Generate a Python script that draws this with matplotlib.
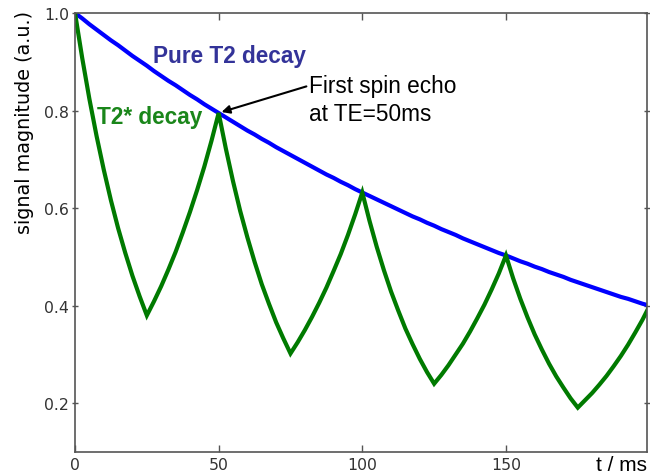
"""Spin echo train: pure T2 decay vs. T2* decay with refocusing echoes."""

import matplotlib
matplotlib.use("Agg")
import matplotlib.pyplot as plt

# time axis (ms), sampled every 2.5 ms
t_ms = [0, 2.5, 5, 7.5, 10, 12.5, 15, 17.5, 20, 22.5, 25, 27.5, 30, 32.5,
        35, 37.5, 40, 42.5, 45, 47.5, 50, 52.5, 55, 57.5, 60, 62.5, 65,
        67.5, 70, 72.5, 75, 77.5, 80, 82.5, 85, 87.5, 90, 92.5, 95, 97.5,
        100, 102.5, 105, 107.5, 110, 112.5, 115, 117.5, 120, 122.5, 125,
        127.5, 130, 132.5, 135, 137.5, 140, 142.5, 145, 147.5, 150, 152.5,
        155, 157.5, 160, 162.5, 165, 167.5, 170, 172.5, 175, 177.5, 180,
        182.5, 185, 187.5, 190, 192.5, 195, 197.5, 200]

# envelope: pure T2 decay
t2_signal = [1.000, 0.989, 0.977, 0.966, 0.955, 0.944, 0.934, 0.923, 0.912,
             0.902, 0.892, 0.881, 0.871, 0.861, 0.852, 0.842, 0.832, 0.823,
             0.813, 0.804, 0.795, 0.786, 0.777, 0.768, 0.759, 0.751, 0.742,
             0.734, 0.725, 0.717, 0.709, 0.701, 0.693, 0.685, 0.677, 0.669,
             0.662, 0.654, 0.647, 0.639, 0.632, 0.625, 0.618, 0.611, 0.604,
             0.597, 0.590, 0.583, 0.577, 0.570, 0.564, 0.557, 0.551, 0.545,
             0.538, 0.532, 0.526, 0.520, 0.514, 0.508, 0.503, 0.497, 0.491,
             0.486, 0.480, 0.475, 0.469, 0.464, 0.459, 0.453, 0.448, 0.443,
             0.438, 0.433, 0.428, 0.423, 0.418, 0.414, 0.409, 0.404, 0.400]

# T2* decay with echoes at 50, 100, 150, 200 ms
t2star_signal = [1.000, 0.908, 0.824, 0.748, 0.679, 0.616, 0.559, 0.508,
                 0.461, 0.419, 0.380, 0.409, 0.440, 0.474, 0.510, 0.550,
                 0.592, 0.637, 0.685, 0.738, 0.795, 0.722, 0.655, 0.594,
                 0.540, 0.490, 0.444, 0.404, 0.366, 0.333, 0.302, 0.325,
                 0.350, 0.377, 0.406, 0.437, 0.471, 0.506, 0.545, 0.587,
                 0.632, 0.574, 0.521, 0.473, 0.429, 0.390, 0.353, 0.321,
                 0.291, 0.264, 0.240, 0.258, 0.278, 0.300, 0.322, 0.347,
                 0.374, 0.402, 0.433, 0.466, 0.503, 0.456, 0.414, 0.376,
                 0.341, 0.310, 0.281, 0.255, 0.232, 0.210, 0.191, 0.206,
                 0.221, 0.238, 0.256, 0.276, 0.297, 0.320, 0.345, 0.371,
                 0.400]

x_ticks = [0, 50, 100, 150]
y_ticks = [0.2, 0.4, 0.6, 0.8, 1.0]

fig = plt.figure(figsize=(6.5, 4.77), dpi=100)
ax = fig.add_axes([0.1154, 0.0503, 0.8796, 0.9203])

ax.plot(t_ms, t2_signal, color="#0000ff", lw=3, solid_joinstyle="round")
ax.plot(t_ms, t2star_signal, color="#007a00", lw=3, solid_joinstyle="miter")

ax.set_xlim(0, 199)
ax.set_ylim(0.1, 1.0)
ax.set_xticks(x_ticks)
ax.set_yticks(y_ticks)
ax.tick_params(axis="both", direction="in", top=True, right=True,
               length=5, width=1, colors="#555555", labelcolor="#333333",
               labelsize=11.3)
ax.tick_params(axis="y", direction="inout", pad=2)
for sp in ax.spines.values():
    sp.set_color("#555555")
    sp.set_linewidth(1.2)

# y label sits near the top of the axis, not centred
fig.text(0.038, 0.744, "signal magnitude (a.u.)", fontsize=13.8,
         rotation=90, ha="center", va="center")

ax.text(27.0, 0.913, "Pure T2 decay", color="#333399", fontsize=16.3,
        fontweight="bold", va="center", family="Liberation Sans")
ax.text(7.5, 0.787, "T2* decay", color="#1a861a", fontsize=16.3,
        fontweight="bold", va="center", family="Liberation Sans")
ax.annotate("First spin echo\nat TE=50ms", xy=(51, 0.797), xytext=(81.5, 0.822),
            fontsize=16.3, va="center", ha="left", family="Liberation Sans",
            linespacing=1.28,
            arrowprops=dict(arrowstyle="-|>", color="black", lw=1.5,
                            shrinkA=0, shrinkB=0, mutation_scale=12,
                            relpos=(0.0, 0.78)))

fig.text(0.917, 0.004, "t / ms", fontsize=15.0, ha="left", va="bottom",
         family="Liberation Sans")

fig.savefig("out.png", dpi=100)
